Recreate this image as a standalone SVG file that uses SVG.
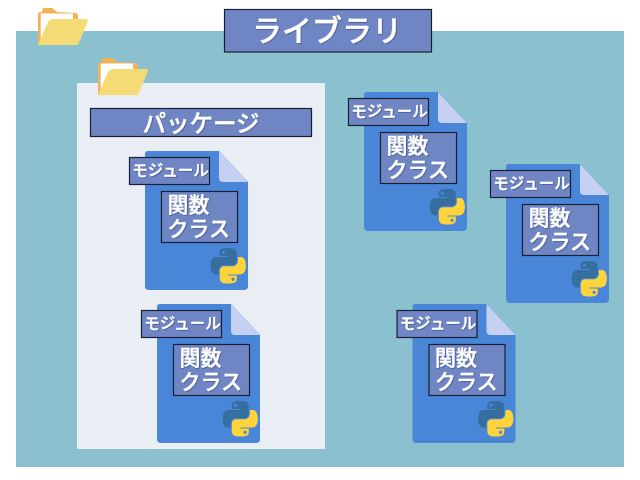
<svg xmlns="http://www.w3.org/2000/svg" xmlns:xlink="http://www.w3.org/1999/xlink" width="640" height="480" viewBox="0 0 640 480">
<style>
text{font-family:"Noto Sans CJK JP","Noto Sans",sans-serif;fill:#fff;stroke:#fff;stroke-width:.3;filter:url(#sh);font-weight:500}
.box{fill:#7086c4;stroke:#1a1f33;stroke-width:1.2}
.lbl{font-size:15.5px}
.fn{font-size:21px}
</style>
<defs>
<filter id="sh" x="-10%" y="-20%" width="120%" height="140%"><feDropShadow dx="0.8" dy="0.8" stdDeviation="0.7" flood-color="#1c2440" flood-opacity="0.45"/></filter>
<path id="py" d="M54.9 0c-4.6 0-9 .4-12.8 1.1C30.8 3.1 28.8 7.2 28.8 14.9v10.1h26.6v3.4H18.8c-7.700 0-14.500 4.600-16.600 13.500-2.400 10.100-2.500 16.500 0 27.100 1.900 7.900 6.400 13.500 14.100 13.500h9.100v-12.100c0-8.800 7.600-16.500 16.600-16.500h26.600c7.400 0 13.300-6.100 13.300-13.500V14.900c0-7.200-6.100-12.600-13.300-13.800C64 .3 59.400 0 54.900 0zM40.500 8.100c2.700 0 5 2.300 5 5 0 2.800-2.200 5-5 5-2.800 0-5-2.200-5-5 0-2.800 2.200-5 5-5z"/>
<g id="doc">
<path d="M3 0H74L103 31V135a4 4 0 0 1-4 4H4a4 4 0 0 1-4-4V3a3 3 0 0 1 3-3z" fill="#4a86d8"/>
<path d="M74 0L103 31H78a4 4 0 0 1-4-4z" fill="#c6d0f2"/>
<rect class="box" x="-15.5" y="6.5" width="80" height="27"/>
<rect class="box" x="16.5" y="40.5" width="76" height="51"/>
<g transform="translate(65.5 97) scale(.32)">
<use xlink:href="#py" href="#py" fill="#366f9f"/>
<use xlink:href="#py" href="#py" fill="#ffd43b" transform="rotate(180 55.5 55.5)"/>
</g>
</g>
<g id="folder">
<path d="M0 37V6a2 2 0 0 1 2-2H4L5 0H14L19 4L37 5a3 3 0 0 1 3 3V14z" fill="#f3b256"/>
<path d="M2.700 37V5.500H35V14z" fill="#fff"/>
<path d="M0 37L10 14Q12 11 16 11L48 11Q50 11 50 13L40 37z" fill="#f5db75"/>
</g>
</defs>
<rect width="640" height="480" fill="#fff"/>
<g id="library-area"><rect x="16" y="31" width="608" height="436" fill="#8bc1cf"/></g>
<g id="package-area"><rect x="77" y="83" width="248" height="366" fill="#e9edf4"/></g>
<g id="connectors"/>
<g id="library-folder"><use xlink:href="#folder" href="#folder" x="38" y="8"/></g>
<g id="package-folder"><use xlink:href="#folder" href="#folder" x="98" y="58"/></g>
<g id="library-title"><rect class="box" x="224.500" y="9.500" width="207" height="42.500"/><text x="327" y="41" font-size="30" text-anchor="middle">ライブラリ</text></g>
<g id="package-title"><rect class="box" x="90.500" y="108.500" width="221" height="28"/><text x="201" y="132" font-size="23.500" text-anchor="middle">パッケージ</text></g>
<g id="module-1" transform="translate(145 151)"><use xlink:href="#doc" href="#doc"/><text class="lbl" x="25.500" y="25" text-anchor="middle">モジュール</text><text class="fn" x="22.500" y="61">関数</text><text class="fn" x="22.500" y="85">クラス</text></g>
<g id="module-2" transform="translate(157 304)"><use xlink:href="#doc" href="#doc"/><text class="lbl" x="25.500" y="25" text-anchor="middle">モジュール</text><text class="fn" x="22.500" y="61">関数</text><text class="fn" x="22.500" y="85">クラス</text></g>
<g id="module-3" transform="translate(364 92)"><use xlink:href="#doc" href="#doc"/><text class="lbl" x="25.500" y="25" text-anchor="middle">モジュール</text><text class="fn" x="22.500" y="61">関数</text><text class="fn" x="22.500" y="85">クラス</text></g>
<g id="module-4" transform="translate(506 164)"><use xlink:href="#doc" href="#doc"/><text class="lbl" x="25.500" y="25" text-anchor="middle">モジュール</text><text class="fn" x="22.500" y="61">関数</text><text class="fn" x="22.500" y="85">クラス</text></g>
<g id="module-5" transform="translate(412.500 304)"><use xlink:href="#doc" href="#doc"/><text class="lbl" x="25.500" y="25" text-anchor="middle">モジュール</text><text class="fn" x="22.500" y="61">関数</text><text class="fn" x="22.500" y="85">クラス</text></g>
</svg>
